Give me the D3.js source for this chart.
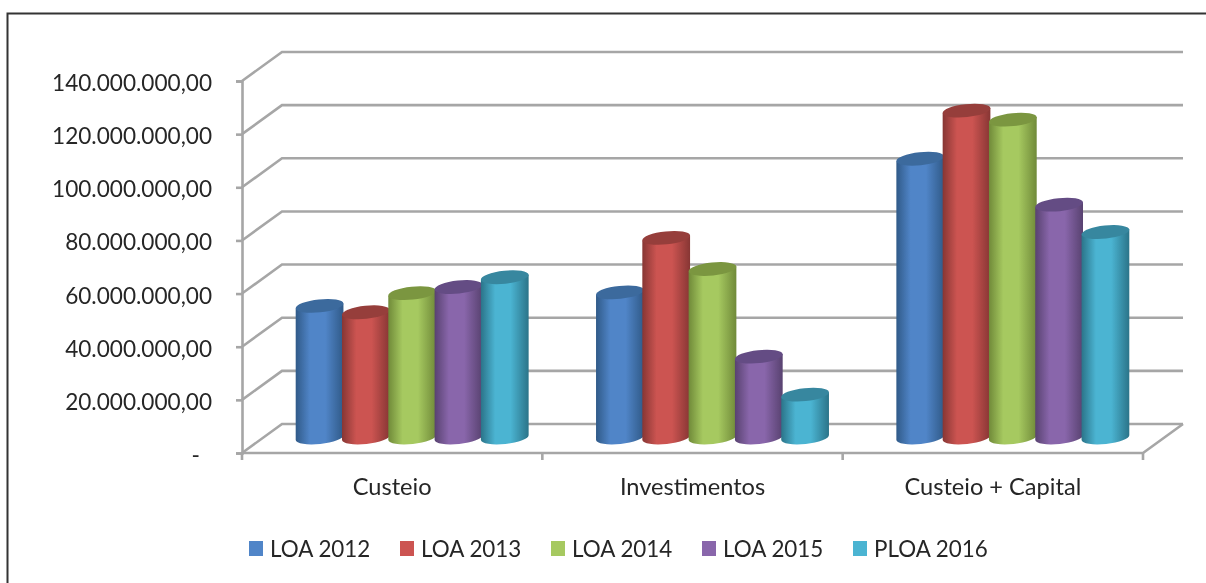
<!DOCTYPE html>
<html>
<head>
<meta charset="utf-8">
<script src="https://cdn.jsdelivr.net/npm/d3@7"></script>
<style>
    body { margin: 0; background: #fff; }
    svg { display: block; filter: blur(0.4px); }
    text { font-family: Lato, "Open Sans", sans-serif; fill: #262626; }
</style>
</head>
<body>
<div id="viz"></div>
<script>
let categories = ['Custeio', 'Investimentos', 'Custeio + Capital'];
let series = ['LOA 2012', 'LOA 2013', 'LOA 2014', 'LOA 2015', 'PLOA 2016'];
let loa2012 = [49900000, 55000000, 105300000];
let loa2013 = [47500000, 75500000, 123400000];
let loa2014 = [54700000, 63800000, 120000000];
let loa2015 = [57000000, 30800000, 88000000];
let ploa2016 = [60700000, 16500000, 77700000];
let yTicks = [0, 20000000, 40000000, 60000000, 80000000, 100000000, 120000000, 140000000];

let seriesValues = [loa2012, loa2013, loa2014, loa2015, ploa2016];
let midColors = ['#5085c8', '#cc5451', '#a6c960', '#8966ab', '#4bb4d2'];
let edgeColors = ['#305a88', '#873634', '#708a39', '#584270', '#2b7489'];
let topColors = ['#3c6a9d', '#963e3b', '#7b9640', '#644c84', '#37879f'];

let width = 1206, height = 583;
// depth of the 3d box
let depthX = 40, depthY = 29;
let rx = 24, ry = 6.5, tilt = 6;

let svg = d3.select('#viz').append('svg')
    .attr('width', width)
    .attr('height', height);

let y = d3.scaleLinear().domain([0, 140000000]).range([453, 81]);
let x = d3.scaleBand().domain(categories).range([242, 1143]);
let xSeries = d3.scaleBand().domain(series).range([-115.75, 115.75]);

let locale = d3.formatLocale({ decimal: ',', thousands: '.', grouping: [3], currency: ['', ''] });
let fmt = locale.format(',.2f');

// chart frame, only top and left are inside the picture
svg.append('path')
    .attr('d', 'M7.5,' + height + 'V13.5H' + width)
    .attr('fill', 'none')
    .attr('stroke', '#333')
    .attr('stroke-width', 2);

// walls
let grid = svg.append('g')
    .attr('fill', 'none')
    .attr('stroke', '#a6a6a6')
    .attr('stroke-width', 2.6);

grid.selectAll('.wall')
    .data(yTicks)
    .enter()
    .append('path')
    .attr('class', 'wall')
    .attr('d', d => 'M' + x.range()[0] + ',' + y(d) + 'l' + depthX + ',' + (-depthY) + 'H' + (x.range()[1] + depthX));

grid.append('path')
    .attr('d', 'M' + x.range()[0] + ',' + y(0) + 'H' + x.range()[1] + 'l' + depthX + ',' + (-depthY));

// axes
let yAxis = d3.axisLeft(y)
    .tickValues(yTicks)
    .tickSize(6)
    .tickPadding(24)
    .tickFormat(d => d === 0 ? '-' : fmt(d));

let yG = svg.append('g')
    .attr('transform', 'translate(' + x.range()[0] + ',0)')
    .call(yAxis);
yG.selectAll('text')
    .attr('x', d => d === 0 ? -42 : -30)
    .attr('dy', '0.42em')
    .style('font-size', '22.6px');

let xAxis = d3.axisBottom(x).tickSize(0).tickPadding(25);
let xG = svg.append('g')
    .attr('transform', 'translate(0,' + y(0) + ')')
    .call(xAxis);
xG.selectAll('text').style('font-size', '23.6px');

// ticks sit on the band limits, not the centres
xG.selectAll('.edge')
    .data(d3.range(categories.length + 1))
    .enter()
    .append('line')
    .attr('class', 'edge')
    .attr('x1', d => x.range()[0] + d * x.step())
    .attr('x2', d => x.range()[0] + d * x.step())
    .attr('y2', 7);

svg.selectAll('.domain, .tick line, .edge')
    .attr('stroke', '#a6a6a6')
    .attr('stroke-width', 2.6);
xG.select('.domain').remove();

// gradients for the cylinder sides
let defs = svg.append('defs');
series.forEach((s, i) => {
    let grad = defs.append('linearGradient').attr('id', 'side' + i);
    let stops = [[0, edgeColors[i]], [0.3, midColors[i]], [0.62, midColors[i]], [1, edgeColors[i]]];
    stops.forEach(st => grad.append('stop').attr('offset', st[0]).attr('stop-color', st[1]));
});

let cosT = Math.cos(tilt * Math.PI / 180), sinT = Math.sin(tilt * Math.PI / 180);

function sidePath(cx, yTop, yBase) {
    let ex = rx * cosT, ey = rx * sinT;
    return 'M' + (cx - ex) + ',' + (yTop + ey)
        + 'L' + (cx + ex) + ',' + (yTop - ey)
        + 'L' + (cx + ex) + ',' + (yBase - ey)
        + 'A' + rx + ',' + ry + ',' + (-tilt) + ',0,1,' + (cx - ex) + ',' + (yBase + ey)
        + 'Z';
}

// bars stand half way through the depth of the box
series.forEach((s, i) => {
    let g = svg.append('g').attr('class', 'series');
    let bars = categories.map((c, j) => ({ cat: c, value: seriesValues[i][j] }));
    let cxOf = d => x(d.cat) + x.bandwidth() / 2 + xSeries(s) + xSeries.bandwidth() / 2 + depthX / 2;

    g.selectAll('.side')
        .data(bars)
        .enter()
        .append('path')
        .attr('class', 'side')
        .attr('d', d => sidePath(cxOf(d), y(d.value) - depthY / 2, y(0) - depthY / 2 - 1))
        .attr('fill', 'url(#side' + i + ')');

    g.selectAll('.top')
        .data(bars)
        .enter()
        .append('ellipse')
        .attr('class', 'top')
        .attr('rx', rx)
        .attr('ry', ry)
        .attr('fill', topColors[i])
        .attr('transform', d => 'translate(' + cxOf(d) + ',' + (y(d.value) - depthY / 2) + ') rotate(' + (-tilt) + ')');
});

// legend
let legend = svg.append('g');
let legendX = d3.scalePoint().domain(series).range([249, 853]);
let item = legend.selectAll('.item')
    .data(series)
    .enter()
    .append('g')
    .attr('class', 'item')
    .attr('transform', d => 'translate(' + legendX(d) + ',541)');

item.append('rect')
    .attr('width', 14)
    .attr('height', 15)
    .attr('fill', (d, i) => midColors[i]);

item.append('text')
    .attr('x', 21)
    .attr('y', 15.5)
    .style('font-size', '22.4px')
    .text(d => d);
</script>
</body>
</html>
